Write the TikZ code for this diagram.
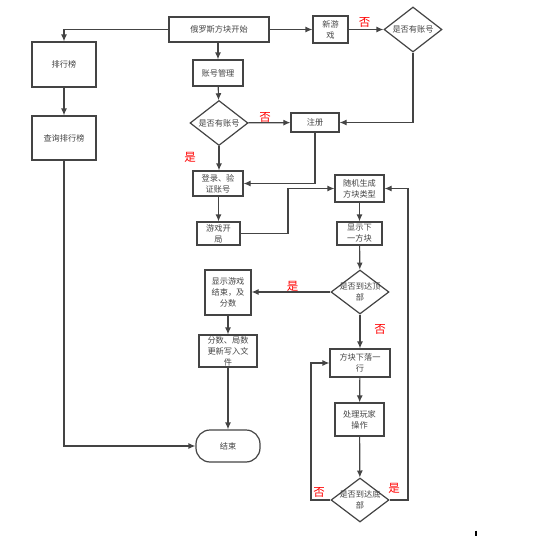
\documentclass[tikz,border=0pt]{standalone}
\usepackage{fontspec}
\setmainfont{Noto Sans CJK SC}
\usetikzlibrary{arrows.meta,shapes.geometric}
\definecolor{ln}{HTML}{444444}
\definecolor{tx}{HTML}{444444}
\tikzset{
  box/.style={draw=ln,line width=1.2pt,rectangle,inner sep=0pt,align=center,text=tx,font=\fontsize{8.2}{11}\selectfont},
  dia/.style={draw=ln,line width=1.2pt,diamond,inner sep=0pt},
  dtxt/.style={align=center,text=tx,font=\fontsize{8.2}{11}\selectfont,inner sep=0pt},
  term/.style={draw=ln,line width=1.2pt,rectangle,rounded corners=14pt,inner sep=0pt,align=center,text=tx,font=\fontsize{8.2}{11}\selectfont},
  arr/.style={draw=ln,line width=1.2pt,-{Latex[length=7pt,width=6pt]}},
  lnk/.style={draw=ln,line width=1.2pt},
  yn/.style={text=red,font=\fontsize{11.5}{12}\selectfont,inner sep=0pt},
}
\begin{document}
\begin{tikzpicture}[x=1pt,y=-1pt]
\useasboundingbox (0,0) rectangle (550,536);
\fill[white] (0,0) rectangle (550,536);
% nodes
\node[box,minimum width=100pt,minimum height=25pt] (start) at (219,29.5) {俄罗斯方块开始};
\node[box,minimum width=64pt,minimum height=45pt] (rank) at (64,64.5) {排行榜};
\node[box,minimum width=64pt,minimum height=44pt] (qrank) at (64,138) {查询排行榜};
\node[box,minimum width=50pt,minimum height=26pt] (acct) at (218,73) {账号管理};
\node[dia,minimum width=58pt,minimum height=45pt] (d1) at (219,123) {};
\node[dtxt] at (d1.center) {是否有账号};
\node[box,minimum width=35pt,minimum height=27pt] (newg) at (330.5,29.5) {新游\\戏};
\node[dia,minimum width=58pt,minimum height=45pt] (d2) at (413,29.5) {};
\node[dtxt] at (d2.center) {是否有账号};
\node[box,minimum width=48pt,minimum height=19pt] (reg) at (315,122.5) {注册};
\node[box,minimum width=50pt,minimum height=25pt] (login) at (218,183.5) {登录、验\\证账号};
\node[box,minimum width=43pt,minimum height=23pt] (open) at (218.5,233.5) {游戏开\\局};
\node[box,minimum width=49pt,minimum height=27pt] (gen) at (359.5,188.5) {随机生成\\方块类型};
\node[box,minimum width=45pt,minimum height=23pt] (next) at (359.5,233.5) {显示下\\一方块};
\node[dia,minimum width=58pt,minimum height=44pt] (d3) at (360,292) {};
\node[dtxt] at (d3.center) {是否到达顶\\部};
\node[box,minimum width=46pt,minimum height=45pt] (over) at (228,292.5) {显示游戏\\结束，及\\分数};
\node[box,minimum width=58pt,minimum height=32pt] (save) at (228,351) {分数、局数\\更新写入文\\件};
\node[box,minimum width=60pt,minimum height=28pt] (fall) at (360,363) {方块下落一\\行};
\node[box,minimum width=49pt,minimum height=33pt] (ctrl) at (359.5,419.5) {处理玩家\\操作};
\node[dia,minimum width=58pt,minimum height=44pt] (d4) at (360,500) {};
\node[dtxt] at (d4.center) {是否到达底\\部};
\node[term,minimum width=64pt,minimum height=32pt] (end) at (228,446) {结束};
% connectors
\draw[arr] (start.west) -| (rank.north);
\draw[arr] (rank) -- (qrank);
\draw[arr] (start) -- (newg);
\draw[arr] (newg) -- (d2);
\draw[arr] (d2.south) |- (reg.east);
\draw[arr] (start.south -| acct) -- (acct);
\draw[arr] (acct) -- (d1);
\draw[arr] (d1) -- (reg);
\draw[arr] (d1.south) -- (d1.south |- login.north);
\draw[arr] (reg.south) |- (login.east);
\draw[arr] (login.south -| open) -- (open);
\coordinate (j1) at (288,233.5);
\draw[arr] (open.east) -- (j1) |- (gen.west);
\draw[arr] (gen) -- (next);
\draw[arr] (next) -- (d3);
\draw[arr] (d3.west) -- (over.east |- d3.west);
\draw[arr] (d3) -- (fall);
\draw[arr] (over) -- (save);
\draw[arr] (save) -- (end);
\draw[arr] (qrank.south) |- (end.west);
\draw[arr] (fall) -- (ctrl);
\draw[arr] (ctrl) -- (d4);
\coordinate (j2) at (311,500);
\draw[arr] (d4.west) -- (j2) |- (fall.west);
\coordinate (j3) at (408,500);
\draw[arr] (d4.east) -- (j3) |- (gen.east);
% labels
\node[yn] (l1) at (265,117) {否};
\node[yn] (l2) at (190,157) {是};
\node[yn] (l3) at (364.5,22) {否};
\node[yn] (l4) at (292.5,286) {是};
\node[yn] (l5) at (380,329) {否};
\node[yn] (l6) at (319,492) {否};
\node[yn] (l7) at (394,488) {是};
% stray tick
\draw[black,line width=1.2pt] (476,530.5) -- (476,536);
\end{tikzpicture}
\end{document}
